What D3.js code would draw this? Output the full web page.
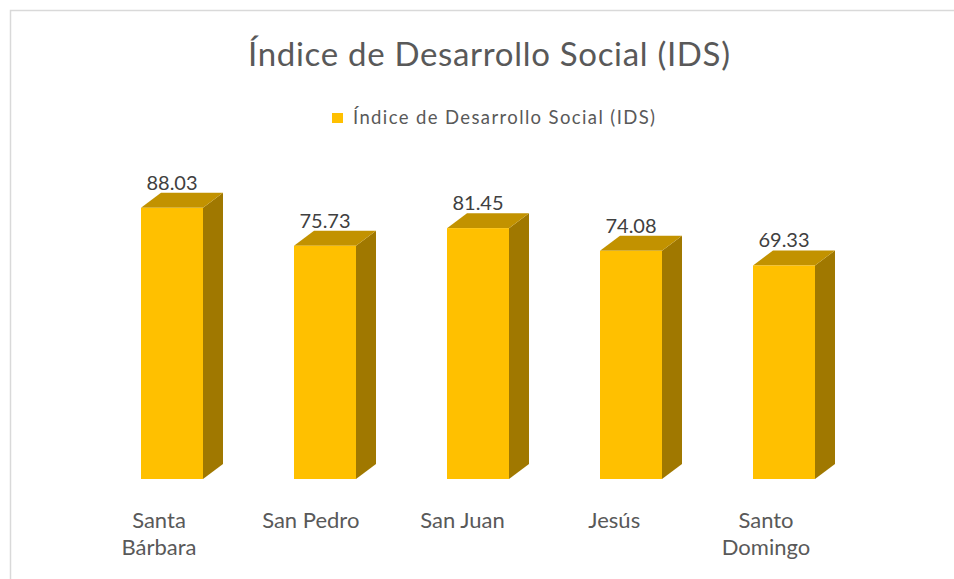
<!DOCTYPE html>
<html>
<head>
<meta charset="utf-8">
<script src="https://cdn.jsdelivr.net/npm/d3@7"></script>
<style>
    body { margin: 0; background: #fff; }
    svg text { font-family: Lato, "Open Sans", sans-serif; }
</style>
</head>
<body>
<div id="chart-area"></div>
<script>
// data
let categories = ["Santa Bárbara", "San Pedro", "San Juan", "Jesús", "Santo Domingo"];
let labelLines = [["Santa", "Bárbara"], ["San Pedro"], ["San Juan"], ["Jesús"], ["Santo", "Domingo"]];
let values = [88.03, 75.73, 81.45, 74.08, 69.33];
let seriesName = "Índice de Desarrollo Social (IDS)";
let chartTitle = "Índice de Desarrollo Social (IDS)";

function BarVis3D(parent) {
    let vis = this;
    vis.parent = d3.select(parent);
    vis.initVis();
}

BarVis3D.prototype.initVis = function() {
    let vis = this;

    vis.width = 954;
    vis.height = 579;

    vis.svg = vis.parent.append("svg")
        .attr("width", vis.width)
        .attr("height", vis.height);

    // chart area frame
    vis.svg.append("rect")
        .attr("x", 10.5)
        .attr("y", 10.5)
        .attr("width", 980)
        .attr("height", 620)
        .style("fill", "#fff")
        .style("stroke", "#d9d9d9")
        .style("stroke-width", 1.5);

    vis.svg.append("text")
        .attr("class", "title")
        .attr("x", 248)
        .attr("y", 66)
        .attr("textLength", 482)
        .attr("lengthAdjust", "spacing")
        .style("font-size", "33px")
        .style("fill", "#595959")
        .text(chartTitle);

    // legend
    vis.svg.append("rect")
        .attr("x", 332)
        .attr("y", 113)
        .attr("width", 11)
        .attr("height", 10)
        .style("fill", "#ffc000");
    vis.svg.append("text")
        .attr("x", 353)
        .attr("y", 124)
        .attr("textLength", 302)
        .attr("lengthAdjust", "spacing")
        .style("font-size", "18.5px")
        .style("fill", "#595959")
        .text(seriesName);

    // front bar centres and label centres (labels sit a little left in the 3D view)
    vis.x = d3.scalePoint().domain(categories).range([172, 784]);
    vis.xLabel = d3.scalePoint().domain(categories).range([159, 766]);
    vis.y = d3.scaleLinear().domain([0, 100]).range([479, 171]);

    vis.barWidth = 62;
    vis.depthX = 20;
    vis.depthY = 15;

    vis.updateVis();
};

BarVis3D.prototype.updateVis = function() {
    let vis = this;
    let dx = vis.depthX, dy = vis.depthY, w = vis.barWidth;

    let bars = vis.svg.selectAll("g.bar")
        .data(categories.map((c, i) => ({ name: c, value: values[i], lines: labelLines[i] })))
        .enter()
        .append("g")
        .attr("class", "bar");

    // right side
    bars.append("path")
        .attr("d", function(d) {
            let x1 = vis.x(d.name) + w / 2, y0 = vis.y(0), y1 = vis.y(d.value);
            return "M" + x1 + "," + y0 + "L" + (x1 + dx) + "," + (y0 - dy) +
                "L" + (x1 + dx) + "," + (y1 - dy) + "L" + x1 + "," + y1 + "Z";
        })
        .style("fill", "#a07800");

    // top
    bars.append("path")
        .attr("d", function(d) {
            let x0 = vis.x(d.name) - w / 2, x1 = x0 + w, y1 = vis.y(d.value);
            return "M" + x0 + "," + y1 + "L" + (x0 + dx) + "," + (y1 - dy) +
                "L" + (x1 + dx) + "," + (y1 - dy) + "L" + x1 + "," + y1 + "Z";
        })
        .style("fill", "#c29200");

    // front
    bars.append("rect")
        .attr("x", d => vis.x(d.name) - w / 2)
        .attr("y", d => vis.y(d.value))
        .attr("width", w)
        .attr("height", d => vis.y(0) - vis.y(d.value))
        .style("fill", "#ffc000");

    bars.append("text")
        .attr("class", "value-label")
        .attr("x", d => vis.x(d.name))
        .attr("y", d => vis.y(d.value) - 18)
        .attr("text-anchor", "middle")
        .style("font-size", "20px")
        .style("fill", "#404040")
        .text(d => d3.format(".2f")(d.value));

    let labels = bars.append("text")
        .attr("class", "cat-label")
        .attr("text-anchor", "middle")
        .style("font-size", "22px")
        .style("fill", "#595959");

    labels.selectAll("tspan")
        .data(d => d.lines.map(l => ({ line: l, name: d.name })))
        .enter()
        .append("tspan")
        .attr("x", d => vis.xLabel(d.name))
        .attr("y", (d, i) => 528 + i * 27)
        .text(d => d.line);
};

new BarVis3D("#chart-area");
</script>
</body>
</html>
